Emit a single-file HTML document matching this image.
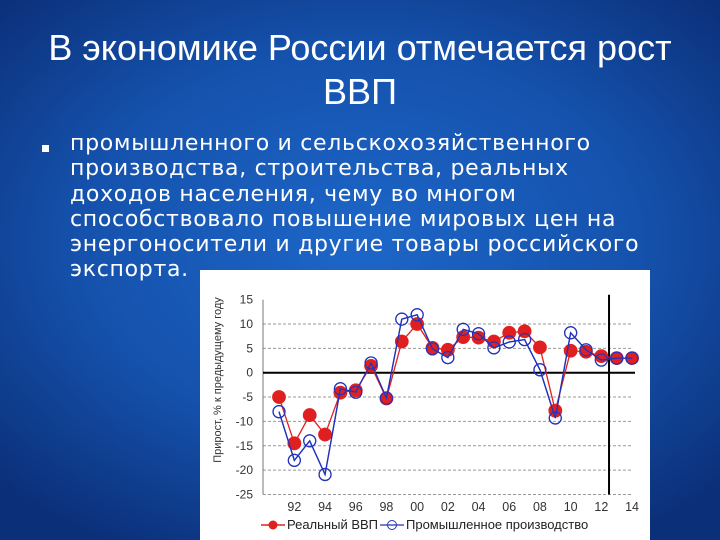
<!DOCTYPE html>
<html><head><meta charset="utf-8"><style>
body{margin:0;width:720px;height:540px;overflow:hidden;position:relative;font-family:"Liberation Sans",sans-serif;
background:radial-gradient(ellipse 70% 65% at 50% 45%,#1d66c8 0%,#1552ad 55%,#0b2f78 100%);}
.t{position:absolute;color:#fff;}
#title{left:0;width:720px;top:26px;font-size:36px;line-height:44px;text-align:center;}
#body{left:70px;top:131px;width:660px;white-space:nowrap;font-family:"DejaVu Sans",sans-serif;font-size:22px;letter-spacing:0.7px;line-height:25.3px;}
#bul{left:42px;top:145px;width:7px;height:7px;background:#fff;}
svg{position:absolute;left:0;top:0}
</style></head><body>
<div class="t" id="title">В экономике России отмечается рост<br>ВВП</div>
<div class="t" id="bul"></div>
<div class="t" id="body">промышленного и сельскохозяйственного<br>производства, строительства, реальных<br>доходов населения, чему во многом<br>способствовало повышение мировых цен на<br>энергоносители и другие товары российского<br>экспорта.</div>
<svg id="chart" width="720" height="540"></svg>
<script>
const years=[1991,1992,1993,1994,1995,1996,1997,1998,1999,2000,2001,2002,2003,2004,2005,2006,2007,2008,2009,2010,2011,2012,2013,2014];
const gdp=[-5,-14.5,-8.7,-12.7,-4.1,-3.6,1.4,-5.3,6.4,10,5.1,4.7,7.3,7.2,6.4,8.2,8.5,5.2,-7.8,4.5,4.3,3.4,3.0,3.0];
const ind=[-8,-18,-14,-20.9,-3.3,-4,2,-5.2,11,11.9,4.9,3.1,8.9,8,5.1,6.3,6.8,0.6,-9.3,8.2,4.7,2.6,3.0,3.0];
const yTicks=[15,10,5,0,-5,-10,-15,-20,-25];
const xLabels=["92","94","96","98","00","02","04","06","08","10","12","14"];
const xLabelYears=[1992,1994,1996,1998,2000,2002,2004,2006,2008,2010,2012,2014];
const NS="http://www.w3.org/2000/svg";
const svg=document.getElementById('chart');
const X=y=>279+(y-1991)*15.35;
const Y=v=>372.7-v*4.87;
function mk(t,a,p){const e=document.createElementNS(NS,t);for(const k in a)e.setAttribute(k,a[k]);(p||svg).appendChild(e);return e;}
let e=mk('rect',{x:200,y:270,width:450,height:270,fill:'#fff'});


yTicks.forEach(v=>{
  if(v!==0&&v!==15){e=mk('line',{x1:263,x2:633,y1:Y(v),y2:Y(v),stroke:'#999','stroke-width':1,'stroke-dasharray':'3,2'});
  
  }
  e=mk('text',{x:253,y:Y(v)+4,'text-anchor':'end','font-size':12,fill:'#333','font-family':'Liberation Sans'});
  e.textContent=v;
  
  
});
e=mk('line',{x1:263,x2:263,y1:Y(15),y2:Y(-25),stroke:'#777'});


e=mk('line',{x1:263,x2:635,y1:Y(0),y2:Y(0),stroke:'#000','stroke-width':2});


e=mk('line',{x1:X(2012.5),x2:X(2012.5),y1:Y(16),y2:Y(-25),stroke:'#000','stroke-width':2});


xLabels.forEach((l,i)=>{e=mk('text',{x:X(xLabelYears[i]),y:511,'text-anchor':'middle','font-size':12.5,fill:'#333','font-family':'Liberation Sans'});
e.textContent=l;

});
e=mk('text',{x:0,y:0,transform:'translate(221,380) rotate(-90)','text-anchor':'middle','font-size':11,fill:'#333','font-family':'Liberation Sans'});
e.textContent='Прирост, % к предыдущему году';


function series(d,col,fill,r,name){
  e=mk('polyline',{points:d.map((v,i)=>X(years[i])+','+Y(v)).join(' '),fill:'none',stroke:col,'stroke-width':1.3});
  
  
  d.forEach((v,i)=>{e=mk('circle',{cx:X(years[i]),cy:Y(v),r:r,fill:fill,stroke:col,'stroke-width':1.2});
  
  });
}
series(ind,'#2233bb','none',6,'industry');
series(gdp,'#e02020','#e02020',6.3,'gdp');
series(ind,'#2233bb','none',6,'industry-overlay');
e=mk('line',{x1:261,x2:285,y1:525,y2:525,stroke:'#e02020','stroke-width':1.5});


e=mk('circle',{cx:273,cy:525,r:4.5,fill:'#e02020'});


e=mk('text',{x:287,y:529,'font-size':13,fill:'#222','font-family':'Liberation Sans'});
e.textContent='Реальный ВВП';


e=mk('line',{x1:380,x2:404,y1:525,y2:525,stroke:'#2233bb','stroke-width':1.2});


e=mk('circle',{cx:392,cy:525,r:4.5,fill:'none',stroke:'#2233bb'});


e=mk('text',{x:406,y:529,'font-size':13,fill:'#222','font-family':'Liberation Sans'});
e.textContent='Промышленное производство';


</script>
</body></html>
